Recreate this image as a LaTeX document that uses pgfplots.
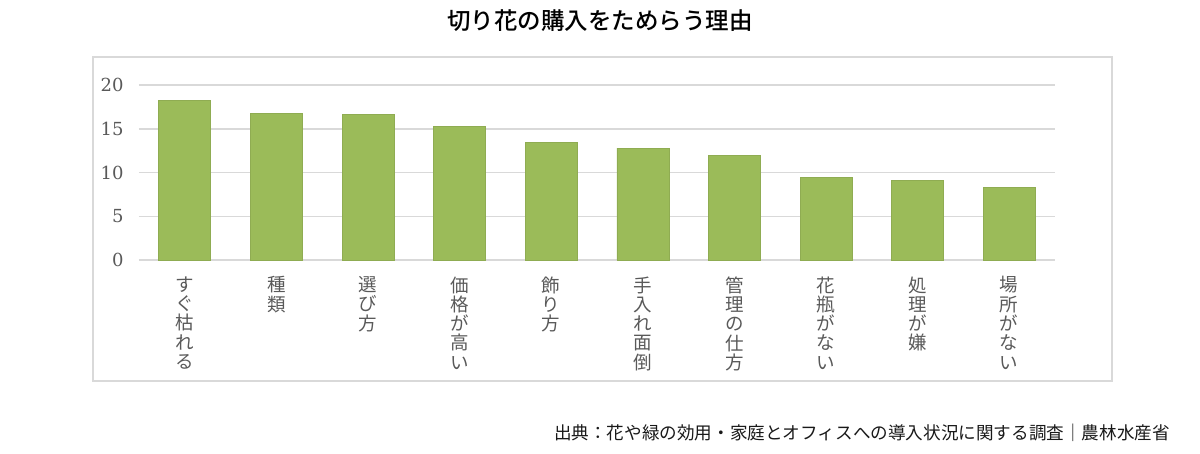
\documentclass[border=0pt]{standalone}
\usepackage{fontspec}
\usepackage{pgfplots}
\pgfplotsset{compat=1.18}
\newfontfamily\jp{Noto Sans CJK JP}
\newfontfamily\jpm{Noto Sans CJK JP Medium}
\newfontfamily\numf{DejaVu Serif}
\definecolor{barc}{HTML}{9BBB59}
\definecolor{gridc}{HTML}{D9D9D9}
\definecolor{labc}{HTML}{595959}
\begin{document}
\begin{tikzpicture}[x=1pt,y=1pt]
\path[use as bounding box] (-139,-193) rectangle (1061,260);
\draw[gridc, line width=1.5pt] (-46,-121) rectangle (973,203);
\begin{axis}[at={(0,0)}, anchor=south west, scale only axis,
  width=916pt, height=175pt,
  xmin=-0.5, xmax=9.5, ymin=0, ymax=20,
  ytick={0,5,10,15,20}, xtick={0,...,9},
  xticklabels={{す\\ぐ\\枯\\れ\\る},{種\\類},{選\\び\\方},{価\\格\\が\\高\\い},{飾\\り\\方},{手\\入\\れ\\面\\倒},{管\\理\\の\\仕\\方},{花\\瓶\\が\\な\\い},{処\\理\\が\\嫌},{場\\所\\が\\な\\い}},
  axis line style={draw=none},
  major tick length=0pt,
  ymajorgrids, grid style={gridc, line width=1.5pt},
  ybar, bar width=52pt,
  /pgf/number format/assume math mode=true,
  yticklabel style={font=\numf\fontsize{18}{20}\selectfont, text=labc, xshift=-12pt},
  xticklabel style={font=\jp\fontsize{18.5}{19.3}\selectfont, text=labc, align=center, anchor=north, yshift=-13pt},
]
\addplot[fill=barc, draw=barc!92!black, line width=0.6pt] coordinates {
(0,18.2) (1,16.8) (2,16.6) (3,15.3) (4,13.4) (5,12.8) (6,12.0) (7,9.4) (8,9.1) (9,8.3)};
\end{axis}
\node[font=\jpm\fontsize{23.5}{25}\selectfont] at (461,239) {切り花の購入をためらう理由};
\node[font=\jp\fontsize{17.6}{19}\selectfont, anchor=east, text=black!90, inner sep=0pt] at (1031,-173) {出典：花や緑の効用・家庭とオフィスへの導入状況に関する調査｜農林水産省};
\end{tikzpicture}
\end{document}
